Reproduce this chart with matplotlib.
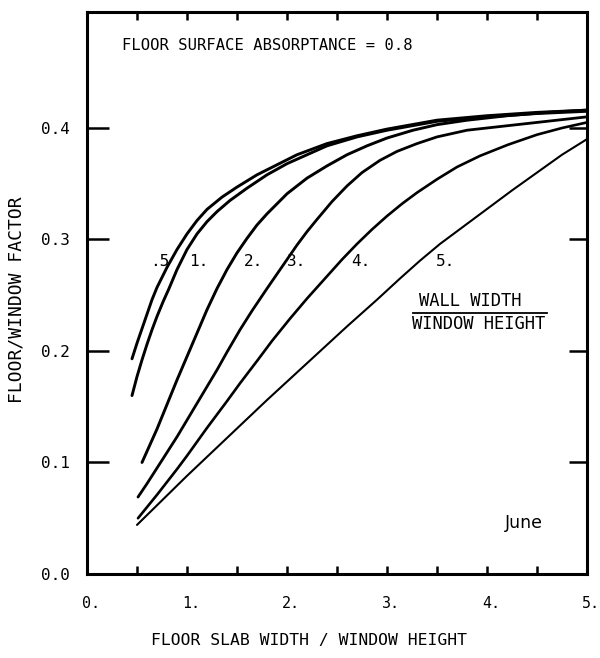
"""
Floor/window factor vs floor slab width, one curve per wall width ratio.
"""
import matplotlib
matplotlib.use("Agg")
import matplotlib.pyplot as plt
from matplotlib.transforms import ScaledTranslation

MONO = "DejaVu Sans Mono"

# curve data (x = floor slab width / window height)
ratios = [".5", "1.", "2.", "3.", "4.", "5."]

x_05 = [0.45, 0.50, 0.55, 0.60, 0.65, 0.70, 0.80, 0.90, 1.00, 1.10, 1.20, 1.35, 1.50,
        1.70, 1.90, 2.10, 2.40, 2.70, 3.00, 3.50, 4.00, 4.50, 5.00]
y_05 = [0.193, 0.207, 0.220, 0.233, 0.246, 0.257, 0.275, 0.291, 0.305, 0.317, 0.327, 0.338, 0.347,
        0.358, 0.367, 0.376, 0.386, 0.393, 0.399, 0.407, 0.411, 0.414, 0.416]

x_1 = [0.45, 0.50, 0.55, 0.60, 0.65, 0.70, 0.76, 0.82, 0.90, 1.00, 1.10, 1.20, 1.30, 1.43,
       1.60, 1.80, 2.00, 2.20, 2.40, 2.70, 3.00, 3.50, 4.00, 4.50, 5.00]
y_1 = [0.160, 0.177, 0.192, 0.206, 0.219, 0.231, 0.244, 0.256, 0.273, 0.291, 0.305, 0.316, 0.325, 0.335,
       0.346, 0.358, 0.368, 0.376, 0.384, 0.392, 0.398, 0.406, 0.410, 0.413, 0.415]

x_2 = [0.55, 0.60, 0.70, 0.80, 0.90, 1.00, 1.10, 1.20, 1.30, 1.40, 1.50, 1.60, 1.70, 1.80,
       1.90, 2.00, 2.20, 2.40, 2.60, 2.80, 3.00, 3.26, 3.50, 3.80, 4.20, 4.60, 5.00]
y_2 = [0.100, 0.110, 0.130, 0.152, 0.174, 0.195, 0.216, 0.237, 0.256, 0.273, 0.288, 0.301, 0.313, 0.323,
       0.332, 0.341, 0.355, 0.366, 0.376, 0.384, 0.391, 0.398, 0.403, 0.407, 0.411, 0.414, 0.416]

x_3 = [0.51, 0.60, 0.70, 0.80, 0.90, 1.00, 1.10, 1.20, 1.30, 1.40, 1.53, 1.65, 1.80, 1.90,
       2.00, 2.10, 2.20, 2.30, 2.45, 2.60, 2.75, 2.93, 3.10, 3.30, 3.50, 3.80, 4.20, 4.60, 5.00]
y_3 = [0.069, 0.081, 0.095, 0.109, 0.123, 0.138, 0.153, 0.168, 0.183, 0.199, 0.219, 0.236, 0.256, 0.269,
       0.282, 0.295, 0.307, 0.318, 0.334, 0.348, 0.360, 0.371, 0.379, 0.386, 0.392, 0.398, 0.402, 0.406, 0.410]

x_4 = [0.51, 0.70, 0.90, 1.00, 1.20, 1.40, 1.53, 1.70, 1.85, 2.03, 2.20, 2.40, 2.55, 2.70,
       2.85, 3.00, 3.15, 3.30, 3.50, 3.70, 3.93, 4.21, 4.50, 4.75, 5.00]
y_4 = [0.050, 0.071, 0.094, 0.106, 0.131, 0.155, 0.171, 0.191, 0.209, 0.229, 0.247, 0.267, 0.282, 0.296,
       0.309, 0.321, 0.332, 0.342, 0.354, 0.365, 0.375, 0.385, 0.394, 0.400, 0.405]

x_5 = [0.50, 1.00, 1.40, 1.80, 2.20, 2.60, 2.90, 3.13, 3.33, 3.53, 3.80, 4.01, 4.25, 4.50, 4.75, 5.00]
y_5 = [0.044, 0.088, 0.122, 0.156, 0.189, 0.222, 0.246, 0.265, 0.281, 0.296, 0.314, 0.328, 0.344, 0.360, 0.376, 0.390]

curves = [(x_05, y_05), (x_1, y_1), (x_2, y_2), (x_3, y_3), (x_4, y_4), (x_5, y_5)]
widths = [2.1, 2.1, 2.1, 2.0, 1.9, 1.5]

# where the ratio numbers sit
label_x = [0.73, 1.12, 1.67, 2.10, 2.74, 3.59]
label_y = 0.28

x_major = [0, 1, 2, 3, 4, 5]
x_labels = ["0.", "1.", "2.", "3.", "4.", "5."]
x_minor = [0.5, 1.5, 2.5, 3.5, 4.5]
y_ticks = [0.0, 0.1, 0.2, 0.3, 0.4]
y_labels = ["0.0", "0.1", "0.2", "0.3", "0.4"]


fig = plt.figure(figsize=(6.0, 6.58), dpi=100)
ax = fig.add_axes([0.145, 0.1277, 0.8333, 0.854])

for (xs, ys), lw in zip(curves, widths):
    ax.plot(xs, ys, color="black", lw=lw, solid_capstyle="round", solid_joinstyle="round")

for txt, lx in zip(ratios, label_x):
    ax.text(lx, label_y, txt, fontsize=11.5, family=MONO, ha="center", va="center")

ax.text(0.35, 0.474, "FLOOR SURFACE ABSORPTANCE = 0.8", fontsize=11.2,
        family=MONO, ha="left", va="center")
ax.text(3.83, 0.245, "WALL WIDTH", fontsize=12.3, family=MONO, ha="center", va="center")
ax.plot([3.26, 4.60], [0.234, 0.234], color="black", lw=1.3)
ax.text(3.92, 0.224, "WINDOW HEIGHT", fontsize=12.3, family=MONO, ha="center", va="center")
ax.text(4.18, 0.046, "June", fontsize=12.5, family="DejaVu Sans", ha="left", va="center")

ax.set_xlim(0, 5)
ax.set_ylim(0, 0.504)

ax.set_xticks(x_major)
ax.set_xticklabels(x_labels, family=MONO, fontsize=10.8, ha="center")
ax.set_xticks(x_minor, minor=True)
ax.set_yticks(y_ticks)
ax.set_yticklabels(y_labels, family=MONO, fontsize=11.5)

ax.tick_params(axis="x", which="both", direction="in", top=True, bottom=True,
               length=5.5, width=1.8, pad=16)
ax.tick_params(axis="y", which="major", direction="in", left=True, right=False,
               length=16, width=1.8, pad=12)

# nudge the x numbers a little right, as on the original
shift = ScaledTranslation(3 / 72, 0, fig.dpi_scale_trans)
for lab in ax.get_xticklabels():
    lab.set_transform(lab.get_transform() + shift)

# right side ticks are shorter than the left ones
ax2 = ax.twinx()
ax2.set_ylim(ax.get_ylim())
ax2.set_yticks([0.1, 0.2, 0.3, 0.4])
ax2.tick_params(axis="y", direction="in", length=13, width=1.8, labelright=False)
for sp in ax2.spines.values():
    sp.set_visible(False)

for sp in ax.spines.values():
    sp.set_linewidth(2.2)

ax.set_xlabel("FLOOR SLAB WIDTH / WINDOW HEIGHT", family=MONO, fontsize=11.8)
ax.xaxis.set_label_coords(0.444, -0.105)
ax.set_ylabel("FLOOR/WINDOW FACTOR", family=MONO, fontsize=13)
ax.yaxis.set_label_coords(-0.124, 0.4875)

fig.savefig("out.png", dpi=100)
